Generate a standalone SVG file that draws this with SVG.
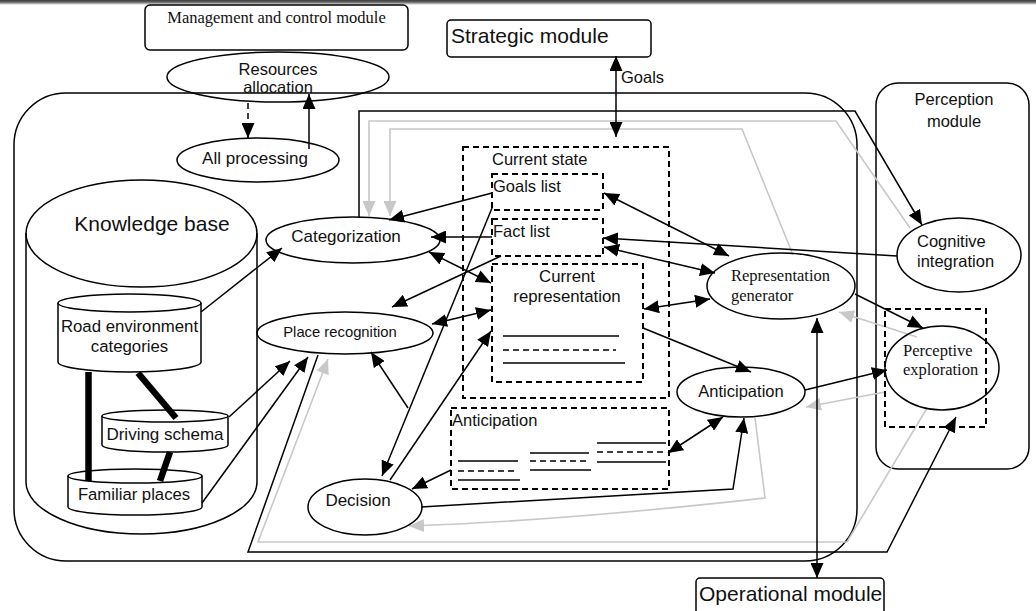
<svg xmlns="http://www.w3.org/2000/svg" width="1036" height="611" viewBox="0 0 1036 611">
  <defs>
    <linearGradient id="topbar" x1="0" y1="0" x2="0" y2="1">
      <stop offset="0" stop-color="#3a3a3a"/>
      <stop offset="0.45" stop-color="#6a6a6a"/>
      <stop offset="1" stop-color="#ffffff"/>
    </linearGradient>
    <marker id="ah" viewBox="0 0 15 13" refX="15" refY="6.5" markerWidth="15" markerHeight="13" markerUnits="userSpaceOnUse" orient="auto-start-reverse">
      <path d="M0,0 L15,6.5 L0,13 z" fill="#000"/>
    </marker>
    <marker id="ahg" viewBox="0 0 15 13" refX="15" refY="6.5" markerWidth="15" markerHeight="13" markerUnits="userSpaceOnUse" orient="auto-start-reverse">
      <path d="M0,0 L15,6.5 L0,13 z" fill="#c8c8c8"/>
    </marker>
    <style>
      .sans { font-family: "Liberation Sans", Arial, sans-serif; fill: #111; }
      .serif { font-family: "Liberation Serif", "Times New Roman", serif; fill: #111; }
      .box { fill: none; stroke: #000; stroke-width: 1.5; }
      .dash { fill: none; stroke: #000; stroke-width: 2; stroke-dasharray: 6 4; }
      .ln { fill: none; stroke: #000; stroke-width: 1.5; }
      .gl { fill: none; stroke: #c8c8c8; stroke-width: 1.6; }
      .thick { stroke: #000; stroke-width: 6.5; }
      .end { marker-end: url(#ah); }
      .both { marker-start: url(#ah); marker-end: url(#ah); }
      .gend { marker-end: url(#ahg); }
    </style>
  </defs>

  <rect x="0" y="0" width="1036" height="611" fill="#fff"/>
  <rect x="0" y="0" width="1036" height="5" fill="url(#topbar)"/>

  <!-- enclosing frames -->
  <g id="frames">
    <rect class="box" x="14" y="93" width="843" height="468" rx="52"/>
    <rect class="box" x="876" y="83" width="153" height="386" rx="22"/>
  </g>

  <!-- connectors -->
  <g id="connectors">
    <!-- grey feedback paths -->
    <path class="gl gend" d="M910,228 L836,121 H369 V216"/>
    <path class="gl gend" d="M793,255 L742,129 H390 V216"/>
    <path class="gl gend" d="M927,408 L847,542 H258 L328,359"/>
    <path class="gl gend" d="M755,418 L765,498 Q560,521 409,526"/>
    <path class="gl gend" d="M917,337 L839,312"/>
    <path class="gl gend" d="M885,392 L806,407"/>

    <!-- management -->
    <path class="ln end" d="M248,103 V138" stroke-dasharray="6 4"/>
    <path class="ln end" d="M309,149 V94"/>

    <!-- strategic goals -->
    <path class="ln both" d="M616,56 V137"/>
    <text class="sans" x="621" y="83" font-size="16.5">Goals</text>

    <!-- knowledge base links -->
    <path class="ln end" d="M201,312 L282,248"/>
    <path class="ln end" d="M229,417 L290,361"/>
    <path class="ln end" d="M202,503 L308,357"/>

    <!-- current state to categorization / place recognition / decision -->
    <path class="ln end" d="M492,193 L389,220"/>
    <path class="ln end" d="M492,237 L431,237"/>
    <path class="ln both" d="M429,252 L491,283"/>
    <path class="ln end" d="M492,208 L382,476"/>
    <path class="ln end" d="M408,408 L371,352"/>
    <path class="ln end" d="M501,256 L392,307"/>
    <path class="ln both" d="M432,324 L491,310"/>
    <path class="ln end" d="M390,480 L491,331"/>

    <!-- anticipation links -->
    <path class="ln end" d="M451,470 L412,489"/>
    <path class="ln end" d="M421,507 L733,489 L744,418"/>
    <path class="ln both" d="M668,453 L723,417"/>
    <path class="ln end" d="M643,328 L751,372"/>
    <path class="ln end" d="M805,390 L887,370"/>

    <!-- representation generator links -->
    <path class="ln both" d="M604,193 L729,256"/>
    <path class="ln both" d="M604,247 L715,273"/>
    <path class="ln both" d="M644,309 L710,299"/>
    <path class="ln end" d="M897,256 L603,238"/>
    <path class="ln end" d="M855,294 L923,328"/>
    <path class="ln both" d="M817,318 V578"/>

    <!-- black frame paths -->
    <path class="ln end" d="M359,217 V111 H855 L922,225"/>
    <path class="ln end" d="M318,355 L248,552 H887 L956,417"/>
  </g>

  <!-- modules -->
  <g id="management-module">
    <rect class="box" x="145" y="5" width="263" height="45" rx="5"/>
    <text class="serif" x="276.5" y="23" font-size="16.5" text-anchor="middle">Management and control module</text>
  </g>
  <g id="strategic-module">
    <rect class="box" x="447" y="20" width="204" height="37" rx="4"/>
    <text class="sans" x="451" y="43" font-size="21">Strategic module</text>
  </g>
  <g id="operational-module">
    <rect class="box" x="696" y="578" width="188" height="40" rx="4"/>
    <text class="sans" x="699" y="601" font-size="21">Operational module</text>
  </g>
  <g id="perception-module-label">
    <text class="sans" x="954" y="105" font-size="16.5" text-anchor="middle">Perception</text>
    <text class="sans" x="954" y="127" font-size="16.5" text-anchor="middle">module</text>
  </g>

  <g id="resources-allocation">
    <ellipse class="box" cx="278" cy="77" rx="111" ry="25"/>
    <text class="sans" x="278" y="75" font-size="16.5" text-anchor="middle">Resources</text>
    <text class="sans" x="278" y="93" font-size="16.5" text-anchor="middle">allocation</text>
  </g>
  <g id="all-processing">
    <ellipse class="box" cx="258" cy="160" rx="81" ry="22"/>
    <text class="sans" x="255" y="164" font-size="17" text-anchor="middle">All processing</text>
  </g>

  <!-- knowledge base -->
  <g id="knowledge-base">
    <path class="box" d="M26,233 V482 A115.5,52 0 0 0 257,482 V233"/>
    <ellipse class="box" cx="141.5" cy="233.5" rx="115.5" ry="53.5"/>
    <text class="sans" x="152" y="231" font-size="21" text-anchor="middle">Knowledge base</text>
  </g>
  <g id="road-environment-categories">
    <path class="box" d="M58,303 V362 A71.5,10 0 0 0 201,362 V303"/>
    <ellipse class="box" cx="129.5" cy="303" rx="71.5" ry="9"/>
    <text class="sans" x="129.5" y="332" font-size="16.8" text-anchor="middle">Road environment</text>
    <text class="sans" x="129.5" y="352" font-size="16.8" text-anchor="middle">categories</text>
  </g>
  <g id="driving-schema">
    <path class="box" d="M102,416 V445 A63,7 0 0 0 228,445 V416"/>
    <ellipse class="box" cx="165" cy="416" rx="63" ry="6"/>
    <text class="sans" x="165" y="440" font-size="17" text-anchor="middle">Driving schema</text>
  </g>
  <g id="familiar-places">
    <path class="box" d="M68,476 V507 A67,8 0 0 0 202,507 V476"/>
    <ellipse class="box" cx="135" cy="476" rx="67" ry="7"/>
    <text class="sans" x="134" y="500" font-size="16.7" text-anchor="middle">Familiar places</text>
  </g>
  <g id="knowledge-links">
    <line class="thick" x1="88.5" y1="372" x2="88.5" y2="481"/>
    <line class="thick" x1="138" y1="373" x2="176" y2="418"/>
    <line class="thick" x1="170" y1="452" x2="160" y2="481"/>
  </g>

  <!-- processes -->
  <g id="categorization">
    <ellipse class="box" cx="353" cy="240" rx="87" ry="23"/>
    <text class="sans" x="346" y="242" font-size="17" text-anchor="middle">Categorization</text>
  </g>
  <g id="place-recognition">
    <ellipse class="box" cx="345" cy="333" rx="88" ry="21"/>
    <text class="sans" x="340" y="337" font-size="14.8" text-anchor="middle">Place recognition</text>
  </g>
  <g id="decision">
    <ellipse class="box" cx="365" cy="507" rx="57" ry="28"/>
    <text class="sans" x="358" y="506" font-size="17" text-anchor="middle">Decision</text>
  </g>
  <g id="anticipation">
    <ellipse class="box" cx="741" cy="392" rx="64" ry="25"/>
    <text class="sans" x="741" y="397" font-size="16.5" text-anchor="middle">Anticipation</text>
  </g>
  <g id="representation-generator">
    <ellipse class="box" cx="781" cy="286" rx="74" ry="33"/>
    <text class="serif" x="731" y="281" font-size="16.5">Representation</text>
    <text class="serif" x="731" y="301" font-size="16.5">generator</text>
  </g>
  <g id="cognitive-integration">
    <ellipse class="box" cx="959" cy="255" rx="62" ry="37"/>
    <text class="sans" x="917" y="247" font-size="16.5">Cognitive</text>
    <text class="sans" x="917" y="267" font-size="16.5">integration</text>
  </g>
  <g id="perceptive-exploration">
    <rect class="dash" x="885" y="309" width="101" height="118"/>
    <ellipse class="box" cx="942" cy="368" rx="57" ry="42"/>
    <text class="serif" x="903" y="356" font-size="16.5">Perceptive</text>
    <text class="serif" x="903" y="375" font-size="16.5">exploration</text>
  </g>

  <!-- working memory -->
  <g id="current-state">
    <rect class="dash" x="463" y="147" width="206" height="251"/>
    <text class="sans" x="492" y="165" font-size="16.5">Current state</text>
  </g>
  <g id="goals-list">
    <rect class="dash" x="492" y="174" width="111" height="36"/>
    <text class="sans" x="493" y="192" font-size="16.5">Goals list</text>
  </g>
  <g id="fact-list">
    <rect class="dash" x="492" y="219" width="111" height="37"/>
    <text class="sans" x="493" y="237" font-size="16.5">Fact list</text>
  </g>
  <g id="current-representation">
    <rect class="dash" x="492" y="264" width="151" height="118"/>
    <text class="sans" x="567" y="282" font-size="16.8" text-anchor="middle">Current</text>
    <text class="sans" x="567" y="302" font-size="16.8" text-anchor="middle">representation</text>
    <line class="ln" x1="503" y1="336" x2="619" y2="336"/>
    <line class="ln" x1="503" y1="350" x2="616" y2="350" stroke="#777" stroke-dasharray="6 4"/>
    <line class="ln" x1="503" y1="363" x2="625" y2="363"/>
  </g>
  <g id="anticipation-store">
    <rect class="dash" x="451" y="408" width="218" height="81"/>
    <text class="sans" x="452" y="426" font-size="16.5">Anticipation</text>
    <line class="ln" x1="458" y1="461" x2="518" y2="461"/>
    <line class="ln" x1="458" y1="471" x2="518" y2="471" stroke-dasharray="6 4"/>
    <line class="ln" x1="458" y1="480" x2="520" y2="480"/>
    <line class="ln" x1="530" y1="453" x2="589" y2="453"/>
    <line class="ln" x1="530" y1="461" x2="589" y2="461" stroke-dasharray="6 4"/>
    <line class="ln" x1="530" y1="470" x2="591" y2="470"/>
    <line class="ln" x1="597" y1="443" x2="666" y2="443"/>
    <line class="ln" x1="597" y1="452" x2="666" y2="452" stroke-dasharray="6 4"/>
    <line class="ln" x1="597" y1="462" x2="666" y2="462"/>
  </g>
</svg>
